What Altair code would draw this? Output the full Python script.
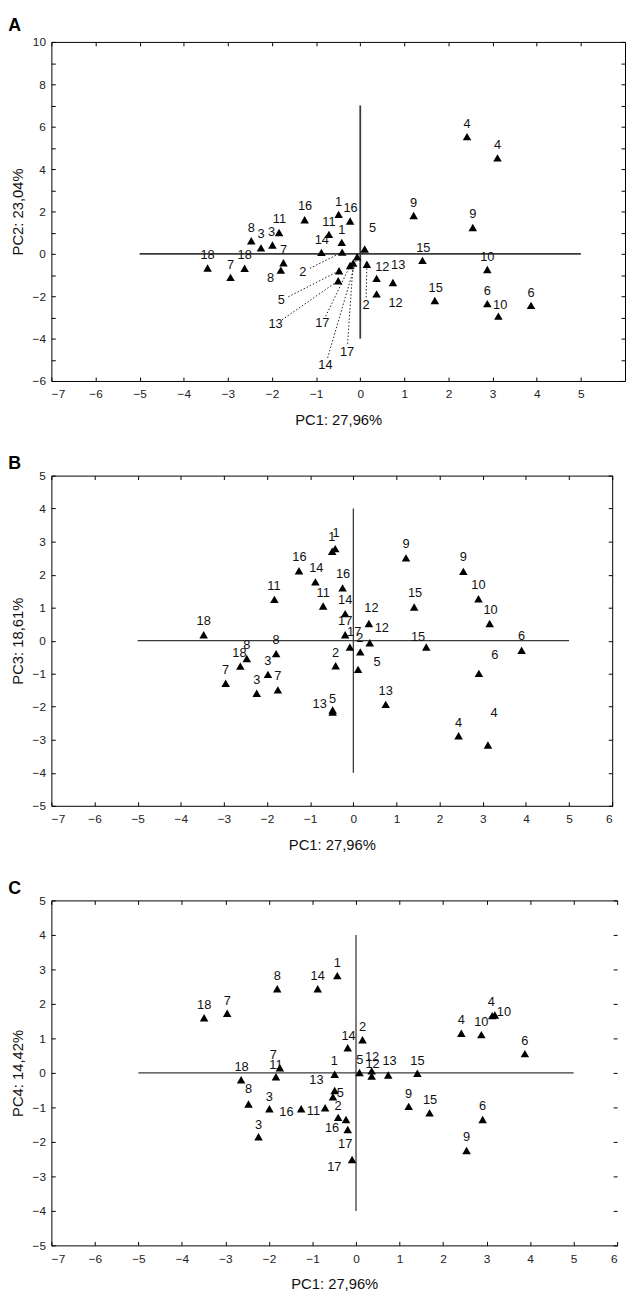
import altair as alt
import pandas as pd
import numpy as np

FONT = "Liberation Sans"

# ---------------- Panel A : PC1 vs PC2 ----------------
A_id = ["18", "7", "18", "8", "3", "3", "11", "7", "8", "16", "11", "14", "1", "16", "1",
        "2", "5", "13", "17", "17", "14", "2", "5", "12", "13", "12", "9", "15", "15",
        "4", "4", "9", "10", "6", "10", "6"]
A_pc1 = [-3.46, -2.94, -2.62, -2.47, -2.25, -1.99, -1.84, -1.74, -1.80, -1.26, -0.71, -0.88,
         -0.49, -0.23, -0.42, -0.41, -0.48, -0.50, -0.23, -0.16, -0.07, 0.15, 0.10, 0.37,
         0.74, 0.37, 1.21, 1.41, 1.69, 2.42, 3.11, 2.55, 2.88, 2.88, 3.13, 3.87]
A_pc2 = [-0.67, -1.11, -0.68, 0.62, 0.28, 0.42, 1.01, -0.42, -0.77, 1.61, 0.92, 0.07,
         1.86, 1.55, 0.54, 0.08, -0.80, -1.27, -0.55, -0.43, -0.14, -0.49, 0.23, -1.16,
         -1.35, -1.89, 1.81, -0.31, -2.20, 5.53, 4.53, 1.24, -0.74, -2.35, -2.94, -2.43]
A_lab_x = [-3.46, -2.94, -2.62, -2.47, -2.25, -2.01, -1.83, -1.74, -2.03, -1.25, -0.71, -0.87,
           -0.49, -0.22, -0.42, -1.30, -1.79, -1.92, -0.86, -0.30, -0.79, 0.13, 0.28, 0.50,
           0.86, 0.80, 1.21, 1.43, 1.71, 2.42, 3.11, 2.55, 2.88, 2.88, 3.17, 3.87]
A_lab_y = [-0.06, -0.53, -0.07, 1.24, 0.93, 1.01, 1.63, 0.20, -1.12, 2.25, 1.52, 0.65,
           2.45, 2.17, 1.12, -0.85, -2.20, -3.33, -3.28, -4.62, -5.27, -2.43, 1.24, -0.62,
           -0.54, -2.33, 2.40, 0.28, -1.63, 6.13, 5.12, 1.86, -0.15, -1.78, -2.40, -1.83]
A_leader = [0, 0, 0, 0, 0, 0, 0, 0, 0, 0, 0, 0, 0, 0, 0, 1, 1, 1, 1, 1, 1, 1, 0, 0,
            0, 0, 0, 0, 0, 0, 0, 0, 0, 0, 0, 0]
A_hline = [-5, 5]
A_vline = [-4, 7]

# ---------------- Panel B : PC1 vs PC3 ----------------
B_id = ["1", "1", "16", "14", "16", "11", "11", "14", "12", "12", "17", "17", "2", "5", "2",
        "18", "18", "8", "8", "3", "7", "3", "7", "13", "5", "13", "4", "4", "9", "9",
        "10", "10", "15", "15", "6", "6"]
B_pc1 = [-0.49, -0.42, -1.26, -0.88, -0.25, -1.83, -0.70, -0.19, 0.36, 0.38, -0.19, -0.08,
         0.16, 0.11, -0.41, -3.47, -2.62, -2.47, -1.79, -1.98, -1.75, -2.24, -2.96, -0.48,
         -0.48, 0.75, 2.44, 3.12, 1.22, 2.55, 2.90, 3.16, 1.41, 1.69, 3.90, 2.91]
B_pc3 = [2.71, 2.79, 2.12, 1.78, 1.60, 1.25, 1.05, 0.82, 0.52, -0.06, 0.18, -0.19,
         -0.34, -0.87, -0.76, 0.18, -0.77, -0.54, -0.39, -1.02, -1.49, -1.59, -1.29, -2.16,
         -2.10, -1.93, -2.88, -3.16, 2.51, 2.10, 1.27, 0.52, 1.02, -0.19, -0.29, -0.99]
B_lab_x = [-0.50, -0.40, -1.25, -0.86, -0.24, -1.84, -0.70, -0.19, 0.42, 0.66, -0.19, 0.02,
           0.15, 0.55, -0.41, -3.47, -2.64, -2.47, -1.79, -1.98, -1.75, -2.24, -2.96, -0.78,
           -0.48, 0.75, 2.44, 3.26, 1.22, 2.55, 2.90, 3.18, 1.43, 1.50, 3.90, 3.28]
B_lab_y = [3.15, 3.25, 2.52, 2.19, 2.01, 1.65, 1.45, 1.22, 1.00, 0.37, 0.60, 0.25,
           0.08, -0.64, -0.36, 0.58, -0.37, -0.12, 0.01, -0.62, -1.07, -1.19, -0.89, -1.91,
           -1.76, -1.52, -2.48, -2.18, 2.94, 2.52, 1.68, 0.93, 1.43, 0.10, 0.13, -0.44]
B_hline = [-5, 5]
B_vline = [-4, 4]

# ---------------- Panel C : PC1 vs PC4 ----------------
C_id = ["1", "8", "14", "18", "7", "14", "2", "4", "10", "4", "10", "6", "7", "11", "18",
        "1", "13", "5", "12", "12", "13", "15", "8", "3", "3", "16", "11", "2", "16", "17",
        "17", "9", "15", "6", "9", "5"]
C_pc1 = [-0.43, -1.81, -0.88, -3.49, -2.96, -0.19, 0.15, 2.42, 2.88, 3.13, 3.19, 3.88,
         -1.75, -1.84, -2.64, -0.49, -0.49, 0.08, 0.36, 0.36, 0.74, 1.41, -2.47, -1.99,
         -2.24, -1.26, -0.71, -0.41, -0.23, -0.19, -0.09, 1.21, 1.69, 2.91, 2.54, -0.53]
C_pc4 = [2.82, 2.44, 2.44, 1.60, 1.73, 0.73, 0.96, 1.15, 1.11, 1.66, 1.68, 0.56,
         0.15, -0.11, -0.20, -0.04, -0.51, 0.01, 0.06, -0.09, -0.06, -0.01, -0.90, -1.04,
         -1.85, -1.04, -1.01, -1.29, -1.35, -1.64, -2.51, -0.97, -1.16, -1.35, -2.25, -0.69]
C_lab_x = [-0.43, -1.81, -0.88, -3.49, -2.96, -0.17, 0.15, 2.42, 2.88, 3.11, 3.40, 3.88,
           -1.90, -1.84, -2.63, -0.50, -0.91, 0.09, 0.37, 0.38, 0.77, 1.41, -2.47, -1.99,
           -2.24, -1.60, -0.98, -0.41, -0.55, -0.25, -0.50, 1.21, 1.70, 2.91, 2.54, -0.36]
C_lab_y = [3.18, 2.80, 2.80, 1.96, 2.09, 1.06, 1.33, 1.53, 1.47, 2.06, 1.75, 0.93,
           0.53, 0.23, 0.17, 0.33, -0.21, 0.37, 0.45, 0.25, 0.33, 0.35, -0.47, -0.70,
           -1.51, -1.13, -1.10, -0.96, -1.61, -2.07, -2.73, -0.60, -0.78, -0.97, -1.86, -0.59]
C_hline = [-5, 5]
C_vline = [-4, 4]

X_TITLE = "PC1: 27,96%"
X_DOMAIN = [-7, 6]


def make_panel(letter, ids, xs, ys, lxs, lys, leader, hline, vline, ydom, ystep_label,
               ytitle, width, height, xlab_max, title_offset, right_domain=True,
               cross_width=1.3):
    df = pd.DataFrame({"id": ids, "x": xs, "y": ys, "lx": lxs, "ly": lys,
                       "leader": leader if leader is not None else [0] * len(ids)})
    xsc = alt.Scale(domain=X_DOMAIN, nice=False, zero=False)
    ysc = alt.Scale(domain=ydom, nice=False, zero=False)

    xvals = list(range(X_DOMAIN[0], xlab_max + 1))
    yvals = list(range(ydom[0], ydom[1] + 1))
    inward = alt.ExprRef(expr="-4")

    common = dict(tickSize=inward, tickColor="black", domainColor="black", grid=False,
                  domainWidth=1, tickWidth=1)
    bottom_axis = alt.Axis(orient="bottom", values=xvals, labelPadding=12,
                           labelFont=FONT, labelFontSize=12, labelColor="#222",
                           titleFont=FONT, titleFontSize=15, titleFontWeight="normal",
                           titleColor="#111", titlePadding=13, **common)
    left_axis = alt.Axis(orient="left", values=yvals, labelPadding=10,
                         labelExpr=f"datum.value % {ystep_label} == 0 ? datum.label : ''",
                         labelFont=FONT, labelFontSize=12, labelColor="#222",
                         titleFont=FONT, titleFontSize=15, titleFontWeight="normal",
                         titleColor="#111", titlePadding=7, **common)
    top_axis = alt.Axis(orient="top", values=xvals, labels=False, title=None, **common)
    right_axis = alt.Axis(orient="right", values=yvals, labels=False, title=None,
                          domain=right_domain, **common)

    cross = pd.DataFrame({"x": [hline[0], 0], "x2": [hline[1], 0],
                          "y": [0, vline[0]], "y2": [0, vline[1]]})
    rules = alt.Chart(cross).mark_rule(color="#3a3a3a", strokeWidth=cross_width).encode(
        x=alt.X("x:Q", scale=xsc, axis=bottom_axis, title=X_TITLE),
        x2="x2:Q",
        y=alt.Y("y:Q", scale=ysc, axis=left_axis, title=ytitle),
        y2="y2:Q",
    )

    pts = alt.Chart(df).mark_point(shape="triangle-up", filled=True, color="black",
                                   size=75, opacity=1).encode(
        x=alt.X("x:Q", scale=xsc, axis=top_axis),
        y=alt.Y("y:Q", scale=ysc, axis=right_axis),
    )

    txt = alt.Chart(df).mark_text(font=FONT, fontSize=13, color="#111", align="center",
                                  baseline="middle").encode(
        x=alt.X("lx:Q", scale=xsc, axis=None),
        y=alt.Y("ly:Q", scale=ysc, axis=None),
        text="id:N",
    )

    layers = [rules, pts, txt]

    if leader is not None:
        sx = width / (X_DOMAIN[1] - X_DOMAIN[0])
        sy = height / (ydom[1] - ydom[0])
        ld = df[df["leader"] == 1].copy()
        dxp = (ld["x"] - ld["lx"]) * sx
        dyp = (ld["y"] - ld["ly"]) * sy
        dist = np.hypot(dxp, dyp)
        f_start = 8.0 / dist
        f_end = 4.0 / dist
        ld["sx0"] = ld["lx"] + (ld["x"] - ld["lx"]) * f_start
        ld["sy0"] = ld["ly"] + (ld["y"] - ld["ly"]) * f_start
        ld["ex"] = ld["x"] - (ld["x"] - ld["lx"]) * f_end
        ld["ey"] = ld["y"] - (ld["y"] - ld["ly"]) * f_end
        lead = alt.Chart(ld).mark_rule(color="#222", strokeWidth=1, strokeDash=[1.5, 2]).encode(
            x=alt.X("sx0:Q", scale=xsc, axis=None),
            y=alt.Y("sy0:Q", scale=ysc, axis=None),
            x2="ex:Q",
            y2="ey:Q",
        )
        layers.append(lead)

    return alt.layer(*layers).resolve_axis(x="independent", y="independent").properties(
        width=width, height=height,
        title=alt.TitleParams(letter, anchor="start", frame="bounds", font=FONT,
                              fontSize=18, fontWeight="bold", color="black",
                              dx=-2, offset=title_offset),
    )


pA = make_panel("A", A_id, A_pc1, A_pc2, A_lab_x, A_lab_y, A_leader, A_hline, A_vline,
                [-6, 10], 2, "PC2: 23,04%", 582, 344, 5, 1, cross_width=1.8)
pB = make_panel("B", B_id, B_pc1, B_pc3, B_lab_x, B_lab_y, None, B_hline, B_vline,
                [-5, 5], 1, "PC3: 18,61%", 569, 335, 6, -3)
pC = make_panel("C", C_id, C_pc1, C_pc4, C_lab_x, C_lab_y, None, C_hline, C_vline,
                [-5, 5], 1, "PC4: 14,42%", 574, 350, 6, -3, right_domain=False)

chart = alt.vconcat(pA, pB, pC, spacing=28).properties(
    padding=0
).configure(padding=0).configure_view(stroke=None)

chart.save("out.html", embed_options={"renderer": "svg", "actions": False})
